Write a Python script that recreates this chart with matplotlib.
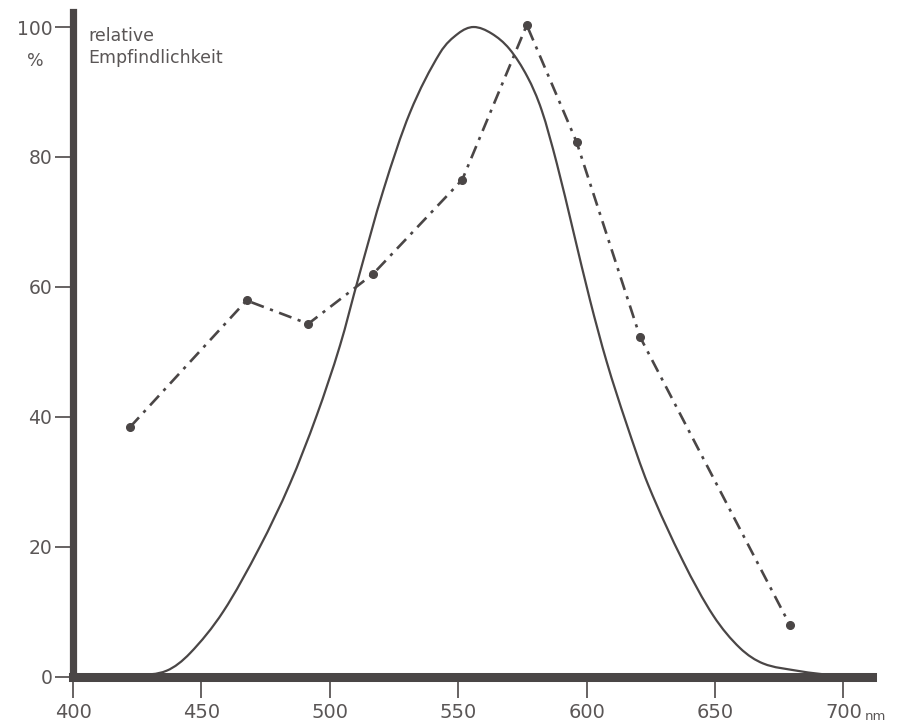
"""
Relative spectral sensitivity: smooth sensitivity curve vs. measured points.
"""

import matplotlib.pyplot as plt
from matplotlib.path import Path
from matplotlib.patches import PathPatch

# solid curve
curve_nm = [400, 425, 436.5, 445.6, 458.5, 472.8, 484.5, 494.9, 504, 511.1,
            520.8, 531.2, 542.9, 550, 556, 563, 570, 577, 582.5, 588.4,
            594.8, 601.3, 607.8, 615.3, 624, 637.5, 649.3, 659.7, 668.8,
            681.8, 690.9, 700]
curve_pct = [0, 0.2, 0.9, 3.6, 10.0, 20.0, 29.7, 40.2, 51.0, 61.3,
             74.8, 86.8, 96.0, 99.0, 100, 99.0, 96.6, 92.3, 87.2, 79.0,
             68.6, 58.0, 48.5, 39.2, 29.5, 17.8, 9.4, 4.4, 2.0,
             0.9, 0.4, 0]

# measured points (dash-dot)
points_nm = [422.2, 467.6, 491.6, 516.9, 551.6, 576.7, 596.1, 620.8, 679.2]
points_pct = [38.4, 57.9, 54.3, 62.0, 76.5, 100.3, 82.3, 52.3, 7.9]

x_ticks = [400, 450, 500, 550, 600, 650, 700]
y_ticks = [0, 20, 40, 60, 80, 100]

INK = "#4a4646"
TEXT = "#5a5656"


def smooth_path(xs, ys):
    """Cubic Hermite curve through the points (tangent from the neighbours)."""
    n = len(xs)
    slopes = []
    for i in range(n):
        a, b = max(i - 1, 0), min(i + 1, n - 1)
        slopes.append((ys[b] - ys[a]) / (xs[b] - xs[a]))
    verts = [(xs[0], ys[0])]
    codes = [Path.MOVETO]
    for i in range(n - 1):
        h = (xs[i + 1] - xs[i]) / 3
        verts += [(xs[i] + h, ys[i] + slopes[i] * h),
                  (xs[i + 1] - h, ys[i + 1] - slopes[i + 1] * h),
                  (xs[i + 1], ys[i + 1])]
        codes += [Path.CURVE4] * 3
    return Path(verts, codes)


fig = plt.figure(figsize=(8.97, 7.23), dpi=100)
ax = fig.add_axes([0.0814, 0.0643, 0.8903, 0.919])

ax.add_patch(PathPatch(smooth_path(curve_nm, curve_pct), facecolor="none",
                       edgecolor=INK, lw=1.6, zorder=2))
ax.plot(points_nm, points_pct, color=INK, lw=1.9,
        linestyle=(0, (5, 2.5, 1.2, 2.5)), marker="o", markersize=5.5)

ax.set_xlim(400, 711)
ax.set_ylim(0, 102.3)

for side in ["top", "right"]:
    ax.spines[side].set_visible(False)
ax.spines["left"].set_linewidth(5.2)
ax.spines["bottom"].set_linewidth(6.5)
for side in ["left", "bottom"]:
    ax.spines[side].set_color(INK)
    ax.spines[side].set_capstyle("projecting")
    ax.spines[side].set_zorder(3)

ax.set_xticks(x_ticks)
ax.set_yticks(y_ticks)
ax.tick_params(axis="y", length=13, width=1.3, pad=2, color=TEXT,
               labelcolor=TEXT, labelsize=13.5)
ax.tick_params(axis="x", length=15, width=1.3, pad=4, color=TEXT,
               labelcolor=TEXT, labelsize=14)

ax.annotate("nm", xy=(700, 0), xytext=(15.6, -31.3), textcoords="offset points",
            ha="left", va="baseline", fontsize=9.5, color=TEXT,
            annotation_clip=False)
ax.annotate("%", xy=(400, 100), xytext=(-27, -28), textcoords="offset points",
            ha="center", va="baseline", fontsize=12.5, color=TEXT,
            annotation_clip=False)
ax.annotate("relative\nEmpfindlichkeit", xy=(400, 100), xytext=(11, -26),
            textcoords="offset points", ha="left", va="baseline",
            fontsize=12.5, color=TEXT, linespacing=1.3, annotation_clip=False)

plt.savefig("out.png", dpi=100)
